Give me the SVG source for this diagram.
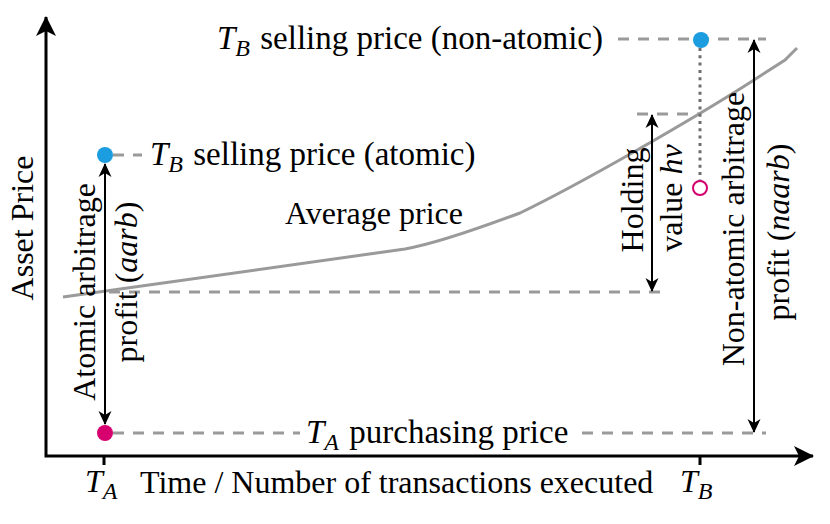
<svg xmlns="http://www.w3.org/2000/svg" width="830" height="524" viewBox="0 0 830 524">
<style>
text{font-family:"Liberation Serif","Times New Roman",serif;font-size:32px;fill:#000}
.lbl{font-size:33px}
.it{font-style:italic}
.sub{font-style:italic;font-size:24px}
.dash{stroke:#9a9a9a;stroke-width:3;stroke-dasharray:11 9;fill:none}
.dot{stroke:#6e6e6e;stroke-width:3;stroke-dasharray:3 4.3;fill:none}
.curve{stroke:#9a9a9a;stroke-width:3;fill:none}
.arr{stroke:#000;stroke-width:2;fill:none;marker-start:url(#ah);marker-end:url(#ah)}
.axis{stroke:#000;stroke-width:3;fill:none}
.blue{fill:#1b9de0}
.mag{fill:#d6006e}
</style>
<defs>
<marker id="ah" viewBox="0 -7 14 14" refX="13" refY="0" markerWidth="14" markerHeight="14" markerUnits="userSpaceOnUse" orient="auto-start-reverse"><path d="M0,-6.5 L14,0 L0,6.5 L4,0 z" fill="#000"/></marker>
<marker id="axh" viewBox="0 -10 20 20" refX="19" refY="0" markerWidth="20" markerHeight="20" markerUnits="userSpaceOnUse" orient="auto-start-reverse"><path d="M0,-10 L20,0 L0,10 L5,0 z" fill="#000"/></marker>
</defs>

<g id="guides">
<path class="curve" d="M63,297 L405,249 Q440,243 520,213 C580,184 690,121 754,80 L785,60 L797,48"/>
<path class="dash" d="M113,155 L142,155"/>
<path class="dash" d="M618,39 L766,39"/>
<path class="dash" d="M637,114 L700,114"/>
<path class="dash" d="M109,292 L662,292"/>
<path class="dash" d="M113,433 L300,433"/>
<path class="dash" d="M582,433 L766,433"/>
<path class="dot" d="M700,48 L700,181"/>
</g>

<g id="axes">
<path class="axis" d="M46,17 L46,456 L813,456" style="marker-start:url(#axh);marker-end:url(#axh)"/>
<path class="axis" d="M104,456 L104,465 M700,456 L700,465"/>
<text id="y-label" transform="translate(33,228) rotate(-90)" text-anchor="middle">Asset Price</text>
<g id="x-label">
<text x="85" y="492"><tspan class="it">T</tspan><tspan class="sub" dy="7">A</tspan></text>
<text x="140" y="493">Time / Number of transactions executed</text>
<text x="680" y="492"><tspan class="it">T</tspan><tspan class="sub" dy="7">B</tspan></text>
</g>
</g>

<g id="connectors">
<path class="arr" d="M105,164 L105,424"/>
<path class="arr" d="M652,115 L652,291"/>
<path class="arr" d="M754,40 L754,432"/>
</g>

<g id="tb-atomic">
<circle class="blue" cx="105" cy="155" r="8"/>
<text class="lbl" x="150" y="165"><tspan class="it">T</tspan><tspan class="sub" dy="7">B</tspan><tspan dy="-7" dx="2"> selling price (atomic)</tspan></text>
</g>

<g id="tb-nonatomic">
<circle class="blue" cx="701" cy="40" r="8"/>
<text class="lbl" x="217" y="49"><tspan class="it">T</tspan><tspan class="sub" dy="7">B</tspan><tspan dy="-7" dx="2"> selling price (non-atomic)</tspan></text>
</g>

<g id="ta-purchase">
<circle class="mag" cx="105" cy="433" r="8"/>
<text class="lbl" x="306" y="443"><tspan class="it">T</tspan><tspan class="sub" dy="7">A</tspan><tspan dy="-7" dx="2"> purchasing price</tspan></text>
</g>

<g id="tb-purchase-open">
<circle cx="700" cy="188" r="7" fill="#fff" stroke="#d6006e" stroke-width="2"/>
</g>

<g id="average-price">
<text x="285" y="224">Average price</text>
</g>

<g id="aarb-label">
<text transform="translate(95,292) rotate(-90)" text-anchor="middle">Atomic arbitrage</text>
<text transform="translate(137,282) rotate(-90)" text-anchor="middle">profit (<tspan class="it">aarb</tspan>)</text>
</g>

<g id="hv-label">
<text transform="translate(643,200) rotate(-90)" text-anchor="middle">Holding</text>
<text transform="translate(682,198) rotate(-90)" text-anchor="middle">value <tspan class="it">hv</tspan></text>
</g>

<g id="naarb-label">
<text transform="translate(744,229) rotate(-90)" text-anchor="middle">Non-atomic arbitrage</text>
<text transform="translate(789,232) rotate(-90)" text-anchor="middle">profit (<tspan class="it">naarb</tspan>)</text>
</g>
</svg>
